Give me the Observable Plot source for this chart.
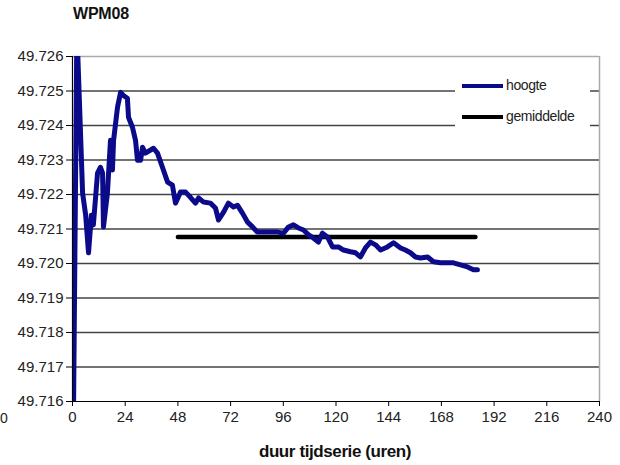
<!DOCTYPE html>
<html>
<head>
<meta charset="utf-8">
<script src="https://cdn.jsdelivr.net/npm/d3@7"></script>
<script src="https://cdn.jsdelivr.net/npm/@observablehq/plot@0.6"></script>
<style>
  html, body { margin: 0; padding: 0; background: #fff; }
  #wrap { position: relative; width: 620px; height: 465px; overflow: hidden; font-family: "Liberation Sans", Arial, sans-serif; }
  #title { position: absolute; left: 73px; top: 5px; font-weight: bold; font-size: 16px; color: #111; letter-spacing: -0.2px; }
  #cut0 { position: absolute; left: 0px; top: 410px; font-size: 14px; color: #222; }
  #xlabel { position: absolute; left: 0; width: 670px; top: 442px; text-align: center; font-weight: bold; font-size: 17px; color: #111; letter-spacing: -0.4px; }
  #legend { position: absolute; left: 455px; top: 70px; width: 135px; height: 64px; background: #fff; }
  .li { position: absolute; left: 7px; height: 16px; font-size: 14px; color: #222; }
  .li .sw { position: absolute; left: 0; top: 7px; width: 41px; height: 4px; }
  .li .tx { position: absolute; left: 44px; top: 0; white-space: nowrap; letter-spacing: -0.4px; }
</style>
</head>
<body>
<div id="wrap">
  <div id="chart"></div>
  <div id="title">WPM08</div>
  <div id="cut0">0</div>
  <div id="legend">
    <div class="li" style="top:7px"><div class="sw" style="background:#0a0a8a"></div><div class="tx">hoogte</div></div>
    <div class="li" style="top:38px"><div class="sw" style="background:#000"></div><div class="tx">gemiddelde</div></div>
  </div>
  <div id="xlabel">duur tijdserie (uren)</div>
</div>
<script>
const xTicks = [0, 24, 48, 72, 96, 120, 144, 168, 192, 216, 240];
const yTicks = [49.716, 49.717, 49.718, 49.719, 49.720, 49.721, 49.722, 49.723, 49.724, 49.725, 49.726];

const hours = [0.5, 2.0, 4.6, 6.0, 7.3, 8.6, 9.5, 11.4, 12.7, 13.7, 14.1, 15.9, 17.3, 18.2, 18.7, 20.5, 21.9, 23.2, 25.0, 25.5, 27.3, 28.7, 29.6, 31.0, 31.9, 33.2, 36.9, 38.7, 41.4, 43.3, 45.5, 46.9, 49.2, 51.5, 53.7, 56.0, 57.4, 59.7, 62.8, 65.1, 66.5, 68.8, 71.0, 73.3, 75.1, 77.4, 79.7, 82.0, 84.2, 87.0, 90.2, 93.4, 96.1, 98.4, 100.6, 102.9, 105.2, 107.5, 109.7, 112.0, 113.8, 116.1, 118.4, 121.1, 123.4, 126.6, 128.9, 131.1, 133.4, 135.7, 138.0, 140.3, 143.4, 146.2, 149.4, 151.6, 153.9, 156.2, 158.5, 161.7, 164.4, 167.6, 173.5, 176.7, 179.9, 182.6, 184.4];
const hoogte = [49.71600, 49.72680, 49.72204, 49.72140, 49.72031, 49.72140, 49.72112, 49.72262, 49.72279, 49.72262, 49.72106, 49.72204, 49.72357, 49.72271, 49.72357, 49.72453, 49.72496, 49.72487, 49.72479, 49.72424, 49.72395, 49.72357, 49.72299, 49.72299, 49.72337, 49.72320, 49.72334, 49.72320, 49.72271, 49.72236, 49.72227, 49.72175, 49.72207, 49.72207, 49.72192, 49.72175, 49.72190, 49.72178, 49.72175, 49.72161, 49.72126, 49.72149, 49.72175, 49.72164, 49.72169, 49.72146, 49.72120, 49.72106, 49.72091, 49.72091, 49.72091, 49.72091, 49.72088, 49.72106, 49.72112, 49.72103, 49.72097, 49.72083, 49.72074, 49.72062, 49.72088, 49.72077, 49.72048, 49.72048, 49.72039, 49.72034, 49.72031, 49.72019, 49.72045, 49.72062, 49.72054, 49.72039, 49.72048, 49.72060, 49.72045, 49.72039, 49.72031, 49.72019, 49.72016, 49.72019, 49.72005, 49.72002, 49.72002, 49.71996, 49.71990, 49.71982, 49.71982];

const meanHours = [48, 183.5];
const meanValue = 49.72077;

const series = hours.map((h, i) => ({h, v: hoogte[i]}));
const meanData = meanHours.map(h => ({h, v: meanValue}));

const chart = Plot.plot({
  width: 620,
  height: 465,
  marginLeft: 72,
  marginRight: 21,
  marginTop: 56,
  marginBottom: 64,
  style: {fontFamily: "'Liberation Sans', Arial, sans-serif", fontSize: "15px", color: "#222", background: "#fff"},
  x: {domain: [0, 240]},
  y: {domain: [49.716, 49.726]},
  marks: [
    Plot.ruleY(yTicks.slice(1, -1), {stroke: "#444", strokeWidth: 1.5}),
    Plot.ruleY([49.726], {stroke: "#aaa", strokeWidth: 1.5}),
    Plot.ruleX([240], {stroke: "#aaa", strokeWidth: 1.5}),
    Plot.line(meanData, {x: "h", y: "v", stroke: "#000", strokeWidth: 4.5}),
    Plot.line(series, {x: "h", y: "v", stroke: "#0a0a8a", strokeWidth: 5, strokeLinejoin: "round", strokeLinecap: "round", clip: true}),
    Plot.ruleX([0], {stroke: "#000", strokeWidth: 1.2}),
    Plot.ruleY([49.716], {stroke: "#000", strokeWidth: 1.2}),
    Plot.axisY({ticks: yTicks, tickFormat: d3.format(".3f"), tickSize: 6, tickPadding: 3, label: null, stroke: "#000", fontSize: 15}),
    Plot.axisX({ticks: xTicks, tickFormat: d => String(d), tickSize: 5, tickPadding: 5, label: null, stroke: "#000", fontSize: 15})
  ]
});
document.getElementById("chart").appendChild(chart);
</script>
</body>
</html>
